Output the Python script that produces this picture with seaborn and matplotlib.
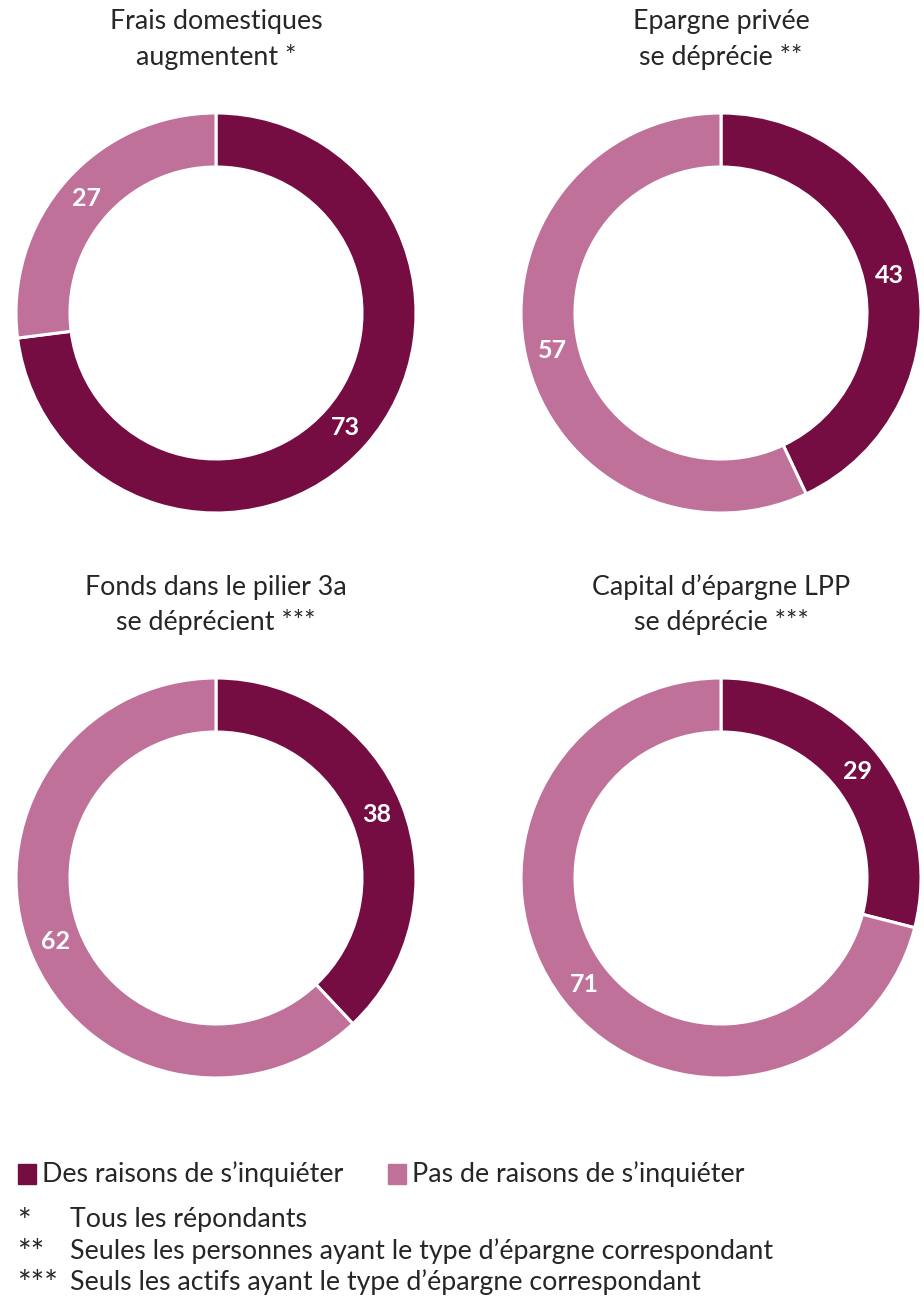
import matplotlib
matplotlib.use("Agg")
import matplotlib.pyplot as plt
import seaborn as sns

# data
titles = [
    ["Frais domestiques", "augmentent *"],
    ["Epargne privée", "se déprécie **"],
    ["Fonds dans le pilier 3a", "se déprécient ***"],
    ["Capital d’épargne LPP", "se déprécie ***"],
]
worried = [73, 43, 38, 29]
not_worried = [27, 57, 62, 71]
series_labels = ["Des raisons de s’inquiéter", "Pas de raisons de s’inquiéter"]
footnote_marks = ["*", "**", "***"]
footnotes = [
    "Tous les répondants",
    "Seules les personnes ayant le type d’épargne correspondant",
    "Seuls les actifs ayant le type d’épargne correspondant",
]

sns.set_theme(style="white")
plt.rcParams["font.family"] = ["Lato", "DejaVu Sans"]
colors = ["#750D43", "#BF7199"]
text_color = "#262626"
fs = 19.3

W, H = 924, 1300
fig = plt.figure(figsize=(W / 100, H / 100), dpi=100)

# pixel boxes for the donuts (left, top, size) and title line positions
boxes = [(16, 113, 400), (521, 113, 400), (16, 678, 400), (521, 678, 400)]
title_y = [(22, 57), (22, 57), (587, 622), (587, 622)]

for i, (left, top, size) in enumerate(boxes):
    ax = fig.add_axes([left / W, (H - top - size) / H, size / W, size / H])
    vals = [worried[i], not_worried[i]]
    wedges, _, autotexts = ax.pie(
        vals, colors=colors, startangle=90, counterclock=False,
        radius=1, wedgeprops=dict(width=0.27, edgecolor="white", linewidth=2.2),
        autopct=lambda p: f"{p:.0f}", pctdistance=0.865,
    )
    for t in autotexts:
        t.set_color("white")
        t.set_fontsize(18)
        t.set_fontweight("bold")
    ax.set_xlim(-1, 1)
    ax.set_ylim(-1, 1)
    ax.set_aspect("equal")
    ax.axis("off")
    for line, y in zip(titles[i], title_y[i]):
        fig.text((left + size / 2) / W, 1 - y / H, line, ha="center",
                 va="center", fontsize=fs, color=text_color)

# legend
ly = 1174
for j, (x0, lab) in enumerate(zip([18, 388], series_labels)):
    fig.patches.append(plt.Rectangle((x0 / W, 1 - (ly + 10) / H), 18 / W, 20 / H,
                                     transform=fig.transFigure, color=colors[j]))
    fig.text((x0 + 24) / W, 1 - ly / H, lab, ha="left", va="center",
             fontsize=fs, color=text_color)

for k, (m, note) in enumerate(zip(footnote_marks, footnotes)):
    y = 1220 + k * 31
    fig.text(17 / W, 1 - (y + 3) / H, m, ha="left", va="center", fontsize=fs + 4,
             color=text_color)
    fig.text(70 / W, 1 - y / H, note, ha="left", va="center", fontsize=fs,
             color=text_color)

fig.savefig("out.png", dpi=100, facecolor="white")
